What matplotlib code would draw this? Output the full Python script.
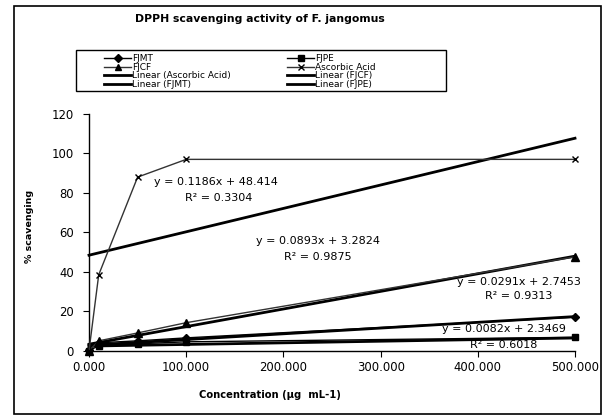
import matplotlib
matplotlib.use("Agg")
import matplotlib.pyplot as plt
from matplotlib.lines import Line2D
from matplotlib.patches import Rectangle
import numpy as np

# ---- data ----
conc = [0, 10, 50, 100, 500]
fjmt = [0.5, 4.0, 5.0, 6.5, 17.0]
fjpe = [0.0, 2.5, 3.5, 4.5, 6.8]
fjcf = [0.0, 5.0, 9.0, 14.2, 47.6]
ascorbic = [0.0, 38.5, 88.0, 97.0, 97.0]

trend_names = ["Ascorbic Acid", "FJCF", "FJMT", "FJPE"]
trend_slope = [0.1186, 0.0893, 0.0291, 0.0082]
trend_icpt = [48.414, 3.2824, 2.7453, 2.3469]
trend_r2 = ["0.3304", "0.9875", "0.9313", "0.6018"]

x_ticks = [0, 100, 200, 300, 400, 500]
y_ticks = [0, 20, 40, 60, 80, 100, 120]

W, H = 614, 416
fig = plt.figure(figsize=(W / 100, H / 100), dpi=100)
fig.patch.set_facecolor("white")

def fx(px):
    return px / W

def fy(py):
    return 1 - py / H

ax = fig.add_axes([fx(89), fy(350.7), fx(575) - fx(89), fy(114) - fy(350.7)])
ax.set_xlim(0, 500)
ax.set_ylim(0, 120)
for s in ["top", "right"]:
    ax.spines[s].set_visible(False)
for s in ["left", "bottom"]:
    ax.spines[s].set_linewidth(1.0)
    ax.spines[s].set_color("black")

ax.set_xticks(x_ticks)
ax.set_xticklabels([f"{v:.3f}" for v in x_ticks])
ax.set_yticks(y_ticks)
ax.tick_params(axis="both", direction="out", length=4, width=0.8, labelsize=8.4, colors="black")
ax.tick_params(axis="x", pad=3.5)
ax.tick_params(axis="y", pad=7)

# trendlines
xt = np.array([0, 500])
for m, b in zip(trend_slope, trend_icpt):
    ax.plot(xt, m * xt + b, color="black", lw=2.0, zorder=2, clip_on=False)

# data series
l_mt, = ax.plot(conc, fjmt, color="black", lw=1.0, marker="D", ms=4.2, zorder=3, clip_on=False)
l_pe, = ax.plot(conc, fjpe, color="black", lw=1.0, marker="s", ms=4.5, zorder=3, clip_on=False)
l_cf, = ax.plot(conc, fjcf, color="#333333", lw=1.0, marker="^", ms=5.5, mfc="black", mec="black", zorder=3, clip_on=False)
l_aa, = ax.plot(conc, ascorbic, color="#333333", lw=1.0, marker="x", ms=4.5, mec="black", mew=1.0, zorder=3, clip_on=False)

# equation labels (pixel positions)
eq_pos = [(216, 182, 219, 198), (318, 241, 318, 257), (519, 282, 519, 296), (504, 329, 504, 345)]
for (m, b, r2, (ex, ey, rx, ry)) in zip(trend_slope, trend_icpt, trend_r2, eq_pos):
    fig.text(fx(ex), fy(ey), f"y = {m}x + {b}", ha="center", va="center", fontsize=8)
    fig.text(fx(rx), fy(ry), f"R² = {r2}", ha="center", va="center", fontsize=8)

# titles / labels
fig.text(fx(260), fy(19), "DPPH scavenging activity of F. jangomus", ha="center", va="center",
         fontsize=7.8, fontweight="bold")
fig.text(fx(270), fy(395), "Concentration (µg  mL-1)", ha="center", va="center",
         fontsize=7.2, fontweight="bold")
fig.text(fx(30), fy(226), "% scavenging", ha="center", va="center", rotation=90,
         fontsize=6.8, fontweight="bold")

# legend
lin = lambda: Line2D([], [], color="black", lw=2.0)
handles = [l_mt, l_cf, lin(), lin(), l_pe, l_aa, lin(), lin()]
labels = ["FJMT", "FJCF", "Linear (Ascorbic Acid)", "Linear (FJMT)",
          "FJPE", "Ascorbic Acid", "Linear (FJCF)", "Linear (FJPE)"]
leg = fig.legend(handles, labels, ncol=2, loc="upper left",
                 bbox_to_anchor=(fx(98), fy(48)), frameon=False, fontsize=6.5,
                 handlelength=3.0, handletextpad=0.1, labelspacing=-0.05,
                 columnspacing=6.2, borderpad=0.2, markerscale=0.9)

fig.add_artist(Rectangle((fx(76), fy(91)), fx(446) - fx(76), fy(50) - fy(91),
                         transform=fig.transFigure, fill=False, ec="black", lw=1.0))
fig.add_artist(Rectangle((fx(14), fy(414)), fx(601) - fx(14), fy(6) - fy(414),
                         transform=fig.transFigure, fill=False, ec="black", lw=1.2))

fig.savefig("out.png", dpi=100, facecolor="white")
